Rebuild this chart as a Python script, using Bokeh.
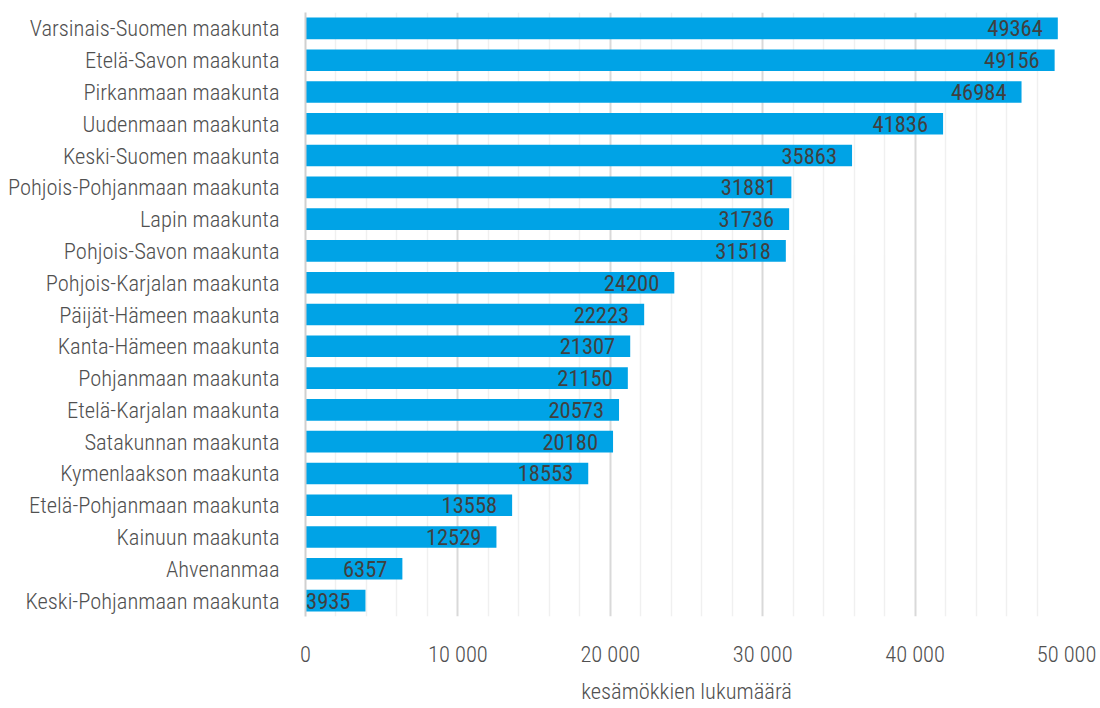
from bokeh.plotting import figure
from bokeh.models import FactorRange, FixedTicker, Range1d, ColumnDataSource
from bokeh.embed import file_html
from bokeh.resources import INLINE
from bokeh.core.properties import value

regions = [
    "Varsinais-Suomen maakunta", "Etelä-Savon maakunta", "Pirkanmaan maakunta",
    "Uudenmaan maakunta", "Keski-Suomen maakunta", "Pohjois-Pohjanmaan maakunta",
    "Lapin maakunta", "Pohjois-Savon maakunta", "Pohjois-Karjalan maakunta",
    "Päijät-Hämeen maakunta", "Kanta-Hämeen maakunta", "Pohjanmaan maakunta",
    "Etelä-Karjalan maakunta", "Satakunnan maakunta", "Kymenlaakson maakunta",
    "Etelä-Pohjanmaan maakunta", "Kainuun maakunta", "Ahvenanmaa",
    "Keski-Pohjanmaan maakunta",
]
counts = [49364, 49156, 46984, 41836, 35863, 31881, 31736, 31518, 24200, 22223,
          21307, 21150, 20573, 20180, 18553, 13558, 12529, 6357, 3935]
major_ticks = [0, 10000, 20000, 30000, 40000, 50000]
tick_labels = ["0", "10 000", "20 000", "30 000", "40 000", "50 000"]
minor_ticks = [2000, 4000, 6000, 8000, 12000, 14000, 16000, 18000, 22000, 24000,
               26000, 28000, 32000, 34000, 36000, 38000, 42000, 44000, 46000, 48000]
x_title = "kesämökkien lukumäärä"

FONT = "'Roboto Condensed Light', 'Roboto Condensed'"
FONT_NUM = "Roboto Condensed"
FS = "22.5px"
TXT = "#505050"

src = ColumnDataSource(dict(region=regions, count=counts,
                            label=[str(c) for c in counts]))

p = figure(width=1096, height=706, output_backend="svg", toolbar_location=None,
           y_range=FactorRange(factors=list(reversed(regions))),
           x_range=Range1d(0, 50000))
p.min_border_left = 305
p.min_border_right = 29
p.min_border_top = 12
p.min_border_bottom = 82
p.outline_line_color = None
p.background_fill_color = "white"

p.hbar(y="region", right="count", left=0, height=0.68, source=src,
       fill_color="#00A3E6", line_color=None)
p.text(x="count", y="region", text="label", source=src, text_align="right",
       text_baseline="middle", x_offset=-15, text_font=value(FONT_NUM),
       text_font_size=FS, text_color="#404040")

xa = p.xaxis[0]
xa.ticker = FixedTicker(ticks=major_ticks, minor_ticks=minor_ticks)
xa.major_label_overrides = {t: l for t, l in zip(major_ticks, tick_labels)}
xa.axis_line_color = None
xa.major_tick_line_color = None
xa.minor_tick_line_color = None
xa.major_label_text_font = FONT
xa.major_label_text_font_size = FS
xa.major_label_text_color = TXT
xa.major_label_standoff = 18
xa.axis_label = x_title
xa.axis_label_text_font = FONT
xa.axis_label_text_font_size = FS
xa.axis_label_text_font_style = "normal"
xa.axis_label_text_color = TXT
xa.axis_label_standoff = 8

ya = p.yaxis[0]
ya.axis_line_color = "#D0D0D0"
ya.axis_line_width = 2
ya.major_tick_line_color = None
ya.minor_tick_line_color = None
ya.major_label_text_font = FONT
ya.major_label_text_font_size = FS
ya.major_label_text_color = TXT
ya.major_label_standoff = 20

p.ygrid.grid_line_color = None
p.xgrid.grid_line_color = "#D9D9D9"
p.xgrid.grid_line_width = 2
p.xgrid.minor_grid_line_color = "#F0F0F0"
p.xgrid.minor_grid_line_width = 1.5

open("out.html", "w").write(file_html(p, INLINE))
